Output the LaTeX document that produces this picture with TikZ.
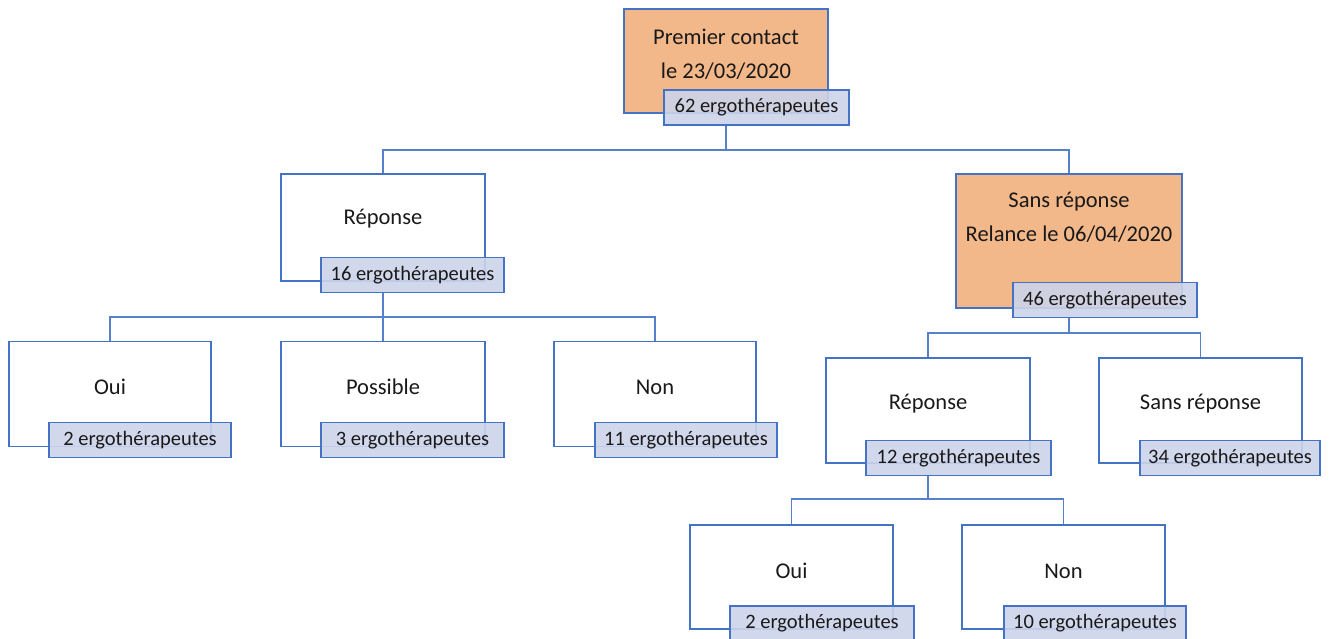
\documentclass[tikz,border=0pt]{standalone}
\usepackage{fontspec}
\setmainfont{Carlito}
\definecolor{bl}{HTML}{4472C4}
\definecolor{org}{HTML}{F2B88A}
\definecolor{lab}{RGB}{205,212,234}
\definecolor{ink}{RGB}{25,25,25}
\begin{document}
\begin{tikzpicture}[x=1pt,y=-1pt,
  box/.style={draw=bl, line width=1.4pt, inner sep=0pt, fill=white},
  obox/.style={box, fill=org},
  lbl/.style={draw=bl, line width=1.4pt, fill=lab, fill opacity=0.9, text opacity=1, inner sep=0pt,
    minimum height=35, text=ink, font=\fontsize{20.5}{24}\selectfont},
  txt/.style={text=ink, align=center, inner sep=0pt, font=\fontsize{22.5}{34}\selectfont},
  conn/.style={draw=bl!90, line width=1.7pt}]
\useasboundingbox (0,0) rectangle (1335,638);

% top
\node[obox, minimum width=204, minimum height=104] (top) at (726,61) {};
\node[txt] (ttop) at (726,54) {Premier contact\\le 23/03/2020};

% level 1
\node[box, minimum width=204, minimum height=107] (rep) at (383,227.5) {};
\node[txt] (trep) at (383,219) {Réponse};
\node[obox, minimum width=226, minimum height=134] (sr) at (1069,241) {};
\node[txt] (tsr) at (1069,217) {Sans réponse\\Relance le 06/04/2020};

% level 2 left
\node[box, minimum width=202, minimum height=105] (oui1) at (110,394) {};
\node[txt] (toui1) at (110,387) {Oui};
\node[box, minimum width=204, minimum height=105] (pos) at (383,394) {};
\node[txt] (tpos) at (383,387) {Possible};
\node[box, minimum width=202, minimum height=105] (non1) at (655,394) {};
\node[txt] (tnon1) at (655,387) {Non};

% level 2 right
\node[box, minimum width=204, minimum height=105] (rep2) at (928,410.5) {};
\node[txt] (trep2) at (928,404) {Réponse};
\node[box, minimum width=203, minimum height=105] (sr2) at (1200.5,410.5) {};
\node[txt] (tsr2) at (1200.5,404) {Sans réponse};

% level 3
\node[box, minimum width=203, minimum height=104] (oui2) at (791.5,577) {};
\node[txt] (toui2) at (791.5,571) {Oui};
\node[box, minimum width=203, minimum height=104] (non2) at (1063.5,577) {};
\node[txt] (tnon2) at (1063.5,571) {Non};

% junction points
\coordinate (c0) at (top.center |- 0,150);
\coordinate (c1) at (rep.center |- 0,317);
\coordinate (c2) at (sr.center |- 0,333);
\coordinate (c3) at (rep2.center |- 0,499);

% connectors
\draw[conn] (top.center |- 0,125) -- (c0) -| (rep.north);
\draw[conn] (c0) -| (sr.north);
\draw[conn] (rep.center |- 0,292) -- (c1) -| (oui1.north);
\draw[conn] (c1) -- (pos.north);
\draw[conn] (c1) -| (non1.north);
\draw[conn] (sr.center |- 0,317) -- (c2) -| (rep2.north);
\draw[conn] (c2) -| (sr2.north);
\draw[conn] (rep2.center |- 0,476) -- (c3) -| (oui2.north);
\draw[conn] (c3) -| (non2.north);

% labels
\node[lbl, minimum width=185] (l0) at (756.5,107.5) {62 ergothérapeutes};
\node[lbl, minimum width=183] (l1) at (412.5,275) {16 ergothérapeutes};
\node[lbl, minimum width=184] (l2) at (1105,300) {46 ergothérapeutes};
\node[lbl, minimum width=182] (l3) at (140,440) {2 ergothérapeutes};
\node[lbl, minimum width=183] (l4) at (412.5,440) {3 ergothérapeutes};
\node[lbl, minimum width=182] (l5) at (686,440) {11 ergothérapeutes};
\node[lbl, minimum width=185] (l6) at (958.5,458) {12 ergothérapeutes};
\node[lbl, minimum width=180] (l7) at (1230,458) {34 ergothérapeutes};
\node[lbl, minimum width=184] (l8) at (822,623.5) {2 ergothérapeutes};
\node[lbl, minimum width=182] (l9) at (1095,623.5) {10 ergothérapeutes};
\end{tikzpicture}
\end{document}
